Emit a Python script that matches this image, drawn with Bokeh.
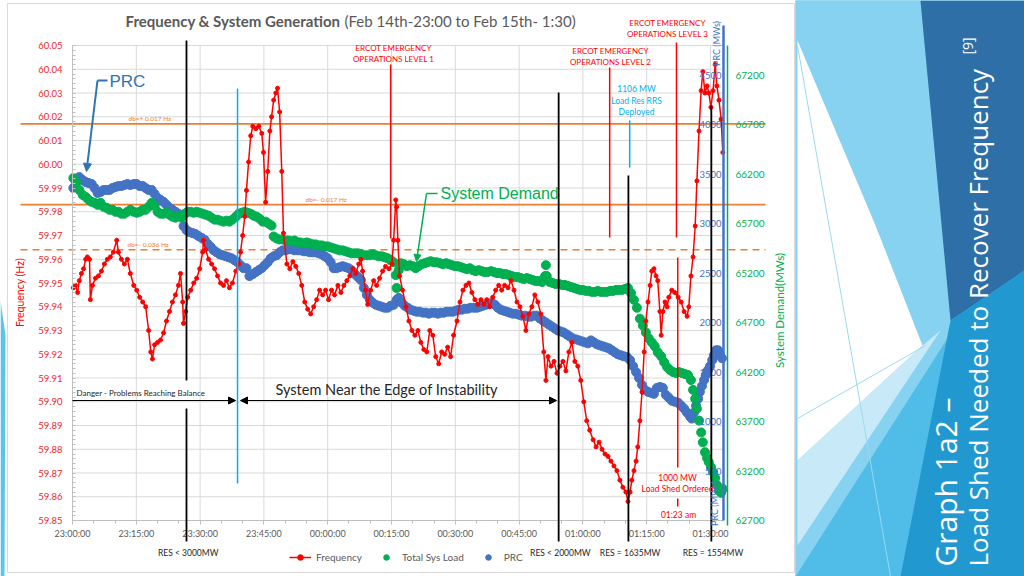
import math
from bokeh.plotting import figure
from bokeh.models import (Range1d, LinearAxis, FixedTicker, NumeralTickFormatter,
                          Label, Arrow, NormalHead, Legend, LegendItem)
from bokeh.layouts import row
from bokeh.embed import file_html
from bokeh.resources import INLINE

# ---------------- data (time = minutes after Feb 14th 23:00) ----------------
freq_t = [0.2, 0.7, 1.2, 1.6, 2.1, 2.6, 3.1, 3.5, 4.0, 4.2,
          4.7, 5.4, 6.1, 6.8, 7.5, 8.2, 8.9, 9.6, 10.4, 10.8,
          11.5, 12.2, 12.9, 13.6, 14.4, 15.1, 15.8, 16.5, 17.2, 17.9,
          18.4, 18.8, 19.3, 20.0, 20.7, 21.4, 22.1, 22.8, 23.5, 24.2,
          24.9, 25.4, 25.9, 26.1, 26.6, 27.1, 27.8, 28.5, 29.2, 29.9,
          30.6, 30.8, 31.3, 32.0, 32.7, 33.4, 34.1, 34.8, 35.5, 36.2,
          36.9, 37.6, 38.4, 39.1, 39.5, 40.0, 40.5, 40.9, 41.4, 41.9,
          42.4, 43.1, 43.8, 44.5, 44.9, 45.4, 45.9, 46.4, 46.8, 47.3,
          47.8, 48.2, 48.7, 49.2, 49.6, 50.4, 51.1, 51.8, 52.5, 53.2,
          53.9, 54.6, 55.3, 56.0, 56.7, 57.4, 58.1, 58.8, 59.5, 60.2,
          60.9, 61.6, 62.4, 63.1, 63.8, 64.5, 65.2, 65.9, 66.6, 67.3,
          67.8, 68.2, 68.9, 69.4, 70.1, 70.8, 71.5, 72.2, 72.9, 73.6,
          74.4, 75.1, 75.5, 76.0, 76.2, 76.5, 76.9, 77.6, 78.4, 79.1,
          79.8, 80.5, 81.2, 81.9, 82.6, 83.3, 84.0, 84.7, 85.4, 86.1,
          86.8, 87.5, 88.2, 88.9, 89.6, 90.4, 91.1, 91.8, 92.5, 93.2,
          93.9, 94.6, 95.3, 96.0, 96.7, 97.4, 98.1, 98.8, 99.5, 100.2,
          100.9, 101.6, 102.4, 103.1, 103.8, 104.5, 105.2, 105.9, 106.6, 107.3,
          108.0, 108.7, 109.4, 110.1, 110.8, 111.3, 111.8, 112.5, 113.2, 113.9,
          114.6, 115.3, 116.0, 116.7, 117.4, 118.1, 118.8, 119.5, 120.2, 120.9,
          121.6, 122.4, 123.1, 123.8, 124.5, 125.2, 125.9, 126.6, 127.3, 128.0,
          128.7, 129.4, 130.1, 130.6, 131.1, 131.5, 132.0, 132.5, 132.9, 133.4,
          133.9, 134.4, 134.8, 135.3, 135.8, 136.2, 136.7, 137.2, 137.6, 138.1,
          138.4, 138.8, 139.3, 139.8, 140.2, 140.9, 141.6, 142.4, 143.1, 143.8,
          144.5, 144.9, 145.4, 145.9, 146.4, 146.8, 147.3, 147.8, 148.2, 148.7,
          149.2, 149.6, 150.1, 150.6, 151.1, 151.5, 152.0, 152.5, 152.9]
freq_hz = [59.948, 59.949, 59.946, 59.951, 59.954, 59.956, 59.960, 59.961, 59.960, 59.943,
           59.949, 59.952, 59.953, 59.955, 59.958, 59.960, 59.961, 59.963, 59.968, 59.963,
           59.960, 59.958, 59.960, 59.954, 59.949, 59.947, 59.944, 59.942, 59.940, 59.930,
           59.921, 59.918, 59.924, 59.925, 59.926, 59.929, 59.934, 59.938, 59.942, 59.945,
           59.949, 59.954, 59.942, 59.933, 59.938, 59.944, 59.947, 59.950, 59.952, 59.956,
           59.963, 59.968, 59.964, 59.960, 59.958, 59.956, 59.953, 59.950, 59.949, 59.951,
           59.948, 59.950, 59.955, 59.958, 59.963, 59.970, 59.978, 59.989, 60.001, 60.012,
           60.016, 60.015, 60.016, 60.013, 60.005, 59.984, 59.997, 60.014, 60.020, 60.027,
           60.030, 60.032, 60.022, 59.997, 59.971, 59.958, 59.956, 59.959, 59.957, 59.954,
           59.949, 59.942, 59.939, 59.937, 59.940, 59.943, 59.947, 59.945, 59.947, 59.943,
           59.947, 59.945, 59.949, 59.946, 59.949, 59.951, 59.953, 59.956, 59.954, 59.958,
           59.960, 59.955, 59.947, 59.941, 59.947, 59.951, 59.949, 59.952, 59.955, 59.957,
           59.956, 59.958, 59.968, 59.985, 59.982, 59.968, 59.953, 59.947, 59.940, 59.934,
           59.930, 59.928, 59.930, 59.925, 59.922, 59.921, 59.930, 59.928, 59.919, 59.916,
           59.921, 59.920, 59.923, 59.919, 59.928, 59.934, 59.942, 59.947, 59.949, 59.950,
           59.946, 59.943, 59.941, 59.943, 59.941, 59.943, 59.940, 59.944, 59.947, 59.949,
           59.947, 59.949, 59.948, 59.951, 59.947, 59.942, 59.940, 59.936, 59.930, 59.937,
           59.940, 59.945, 59.942, 59.937, 59.921, 59.909, 59.919, 59.915, 59.917, 59.912,
           59.915, 59.917, 59.913, 59.921, 59.925, 59.917, 59.915, 59.909, 59.900, 59.892,
           59.888, 59.884, 59.881, 59.883, 59.880, 59.878, 59.877, 59.875, 59.873, 59.871,
           59.867, 59.864, 59.862, 59.858, 59.862, 59.867, 59.871, 59.875, 59.881, 59.892,
           59.904, 59.921, 59.934, 59.942, 59.949, 59.955, 59.956, 59.953, 59.951, 59.938,
           59.928, 59.938, 59.942, 59.940, 59.944, 59.947, 59.946, 59.944, 59.942, 59.938,
           59.936, 59.940, 59.953, 59.961, 59.974, 59.993, 60.014, 60.031, 60.039, 60.030,
           60.033, 60.030, 60.024, 60.031, 60.042, 60.033, 60.027, 60.019, 60.005]

load_t = [0.2, 0.9, 1.6, 2.4, 3.1, 3.8, 4.5, 5.2, 5.9, 6.6,
          7.3, 8.0, 8.7, 9.4, 10.1, 10.8, 11.5, 12.2, 12.9, 13.6,
          14.4, 15.1, 15.8, 16.5, 17.2, 17.9, 18.6, 19.3, 20.0, 20.7,
          21.4, 22.1, 22.8, 23.5, 24.2, 24.9, 25.6, 26.4, 27.1, 27.8,
          28.5, 29.2, 29.9, 30.6, 31.3, 32.0, 32.7, 33.4, 34.1, 34.8,
          35.5, 36.2, 36.9, 37.6, 38.4, 39.1, 39.8, 40.5, 41.2, 41.9,
          42.6, 43.3, 44.0, 44.7, 45.4, 46.1, 46.8, 47.3, 48.0, 48.7,
          49.4, 50.1, 50.8, 51.5, 52.2, 52.9, 53.6, 54.4, 55.1, 55.8,
          56.5, 57.2, 57.9, 58.6, 59.3, 60.0, 60.7, 61.4, 62.1, 62.8,
          63.5, 64.2, 64.9, 65.6, 66.4, 67.1, 67.8, 68.5, 69.2, 69.9,
          70.6, 71.3, 72.0, 72.7, 73.4, 74.1, 74.8, 75.5, 76.0, 76.2,
          76.7, 77.2, 77.9, 78.6, 79.3, 80.0, 80.7, 81.4, 82.1, 82.8,
          83.5, 84.2, 84.9, 85.6, 86.4, 87.1, 87.8, 88.5, 89.2, 89.9,
          90.6, 91.3, 92.0, 92.7, 93.4, 94.1, 94.8, 95.5, 96.2, 96.9,
          97.6, 98.4, 99.1, 99.8, 100.5, 101.2, 101.9, 102.6, 103.3, 104.0,
          104.7, 105.4, 106.1, 106.8, 107.5, 108.2, 108.9, 109.6, 110.4, 111.1,
          111.3, 111.5, 112.2, 112.9, 113.6, 114.4, 115.1, 115.8, 116.5, 117.2,
          117.9, 118.6, 119.3, 120.0, 120.7, 121.4, 122.1, 122.8, 123.5, 124.2,
          124.9, 125.6, 126.4, 127.1, 127.8, 128.5, 129.2, 129.9, 130.6, 131.3,
          132.0, 132.7, 133.4, 134.1, 134.8, 135.5, 136.2, 136.9, 137.6, 138.4,
          139.1, 139.8, 140.5, 141.2, 141.9, 142.6, 143.3, 144.0, 144.7, 145.4,
          145.9, 146.4, 146.8, 147.3, 147.8, 148.2, 148.7, 149.2, 149.6, 150.1,
          150.6, 151.1, 151.5, 152.0, 152.5, 152.9]
load_mw = [66160, 66120, 66040, 65990, 65970, 65940, 65920, 65910, 65890, 65910,
           65870, 65860, 65840, 65840, 65820, 65820, 65800, 65800, 65820, 65840,
           65820, 65810, 65820, 65840, 65840, 65870, 65910, 65880, 65820, 65800,
           65800, 65810, 65790, 65770, 65760, 65780, 65760, 65800, 65820, 65820,
           65810, 65820, 65810, 65800, 65790, 65780, 65760, 65740, 65740, 65730,
           65720, 65730, 65720, 65740, 65770, 65800, 65810, 65820, 65810, 65800,
           65780, 65770, 65750, 65720, 65720, 65700, 65680, 65570, 65550, 65540,
           65540, 65530, 65530, 65520, 65530, 65510, 65510, 65500, 65510, 65500,
           65490, 65490, 65480, 65480, 65470, 65470, 65460, 65450, 65440, 65430,
           65430, 65420, 65410, 65400, 65400, 65400, 65390, 65380, 65380, 65380,
           65390, 65380, 65370, 65370, 65360, 65350, 65330, 65310, 65180, 65050,
           65230, 65300, 65290, 65270, 65280, 65270, 65250, 65270, 65290, 65300,
           65310, 65320, 65310, 65310, 65300, 65290, 65300, 65290, 65280, 65270,
           65270, 65260, 65250, 65240, 65250, 65230, 65220, 65230, 65220, 65210,
           65210, 65220, 65210, 65200, 65200, 65190, 65190, 65180, 65170, 65160,
           65160, 65150, 65140, 65150, 65140, 65130, 65120, 65120, 65110, 65170,
           65280, 65170, 65110, 65100, 65090, 65090, 65080, 65080, 65070, 65060,
           65050, 65040, 65030, 65030, 65020, 65020, 65010, 65010, 65020, 65010,
           65010, 65010, 65020, 65020, 65030, 65030, 65030, 65040, 65050, 65000,
           64930, 64850, 64740, 64670, 64600, 64540, 64500, 64460, 64400, 64360,
           64300, 64250, 64220, 64200, 64190, 64200, 64190, 64180, 64170, 64120,
           64020, 63930, 63830, 63710, 63590, 63490, 63390, 63330, 63290, 63240,
           63190, 63130, 63060, 63000, 62980, 63020]

prc_t = [0.2, 0.9, 1.6, 2.4, 3.1, 3.8, 4.5, 5.2, 5.9, 6.6,
         7.3, 8.0, 8.7, 9.4, 10.1, 10.8, 11.5, 12.2, 12.9, 13.6,
         14.4, 15.1, 15.8, 16.5, 17.2, 17.9, 18.6, 19.3, 20.0, 20.7,
         21.4, 22.1, 22.8, 23.5, 24.2, 24.9, 25.6, 26.1, 26.8, 27.5,
         28.2, 28.9, 29.6, 30.4, 31.1, 31.8, 32.5, 33.2, 33.9, 34.6,
         35.3, 36.0, 36.7, 37.4, 38.1, 38.8, 39.5, 40.2, 40.9, 41.6,
         42.4, 43.1, 43.8, 44.5, 45.2, 45.9, 46.6, 47.3, 48.0, 48.7,
         49.4, 50.1, 50.8, 51.5, 52.2, 52.9, 53.6, 54.4, 55.1, 55.8,
         56.5, 57.2, 57.9, 58.6, 59.3, 60.0, 60.7, 61.4, 62.1, 62.8,
         63.5, 64.2, 64.9, 65.6, 66.4, 67.1, 67.8, 68.5, 69.2, 69.9,
         70.6, 71.3, 72.0, 72.7, 73.4, 74.1, 74.8, 75.5, 76.2, 76.7,
         77.4, 78.1, 78.8, 79.5, 80.2, 80.9, 81.6, 82.4, 83.1, 83.8,
         84.5, 85.2, 85.9, 86.6, 87.3, 88.0, 88.7, 89.4, 90.1, 90.8,
         91.5, 92.2, 92.9, 93.6, 94.4, 95.1, 95.8, 96.5, 97.2, 97.9,
         98.6, 99.3, 100.0, 100.7, 101.4, 102.1, 102.8, 103.5, 104.2, 104.9,
         105.6, 106.4, 107.1, 107.8, 108.5, 109.2, 109.9, 110.6, 111.3, 112.0,
         112.7, 113.4, 114.1, 114.8, 115.5, 116.2, 116.9, 117.6, 118.4, 119.1,
         119.8, 120.5, 121.2, 121.9, 122.6, 123.3, 124.0, 124.7, 125.4, 126.1,
         126.8, 127.5, 128.2, 128.9, 129.6, 130.4, 131.1, 131.8, 132.5, 133.2,
         133.9, 134.6, 135.3, 136.0, 136.7, 137.4, 138.1, 138.8, 139.5, 140.2,
         140.9, 141.6, 142.4, 143.1, 143.8, 144.5, 145.2, 145.6, 146.1, 146.6,
         147.1, 147.5, 148.0, 148.5, 148.9, 149.4, 149.9, 150.4, 150.8, 151.3,
         151.8, 152.2, 152.7]
prc_mw = [3360, 3420, 3470, 3440, 3420, 3410, 3400, 3360, 3310, 3320,
          3340, 3340, 3340, 3360, 3370, 3380, 3380, 3390, 3400, 3390,
          3400, 3400, 3380, 3380, 3360, 3340, 3340, 3300, 3260, 3240,
          3220, 3190, 3160, 3140, 3120, 3100, 3080, 2975, 2935, 2915,
          2905, 2895, 2875, 2855, 2835, 2795, 2765, 2730, 2710, 2690,
          2680, 2670, 2660, 2650, 2630, 2610, 2580, 2550, 2550, 2470,
          2490, 2510, 2530, 2550, 2580, 2610, 2650, 2670, 2680, 2710,
          2730, 2730, 2740, 2740, 2730, 2730, 2730, 2720, 2720, 2710,
          2710, 2710, 2700, 2690, 2670, 2650, 2610, 2550, 2550, 2560,
          2570, 2560, 2550, 2530, 2490, 2460, 2430, 2350, 2280, 2230,
          2200, 2180, 2170, 2160, 2150, 2150, 2170, 2180, 2230, 2250,
          2200, 2170, 2150, 2130, 2120, 2110, 2110, 2100, 2100, 2090,
          2100, 2100, 2090, 2100, 2100, 2110, 2110, 2110, 2120, 2130,
          2130, 2140, 2140, 2150, 2150, 2150, 2160, 2170, 2180, 2190,
          2200, 2180, 2150, 2130, 2120, 2110, 2100, 2090, 2090, 2080,
          2070, 2070, 2060, 2060, 2070, 2070, 2040, 2020, 2000, 1980,
          1960, 1940, 1920, 1910, 1900, 1880, 1860, 1840, 1830, 1820,
          1810, 1800, 1790, 1820, 1800, 1780, 1770, 1760, 1750, 1740,
          1720, 1700, 1680, 1670, 1660, 1650, 1620, 1560, 1500, 1440,
          1370, 1320, 1300, 1290, 1280, 1340, 1350, 1340, 1270, 1240,
          1210, 1200, 1190, 1160, 1130, 1090, 1050, 1030, 1090, 1160,
          1230, 1300, 1360, 1420, 1470, 1520, 1560, 1620, 1670, 1720,
          1720, 1680, 1640]

x_tick_minutes = [0, 15, 30, 45, 60, 75, 90, 105, 120, 135, 150]
x_tick_labels = ["23:00:00", "23:15:00", "23:30:00", "23:45:00", "00:00:00", "00:15:00",
                 "00:30:00", "00:45:00", "01:00:00", "01:15:00", "01:30:00"]
hz_ticks = [59.85, 59.86, 59.87, 59.88, 59.89, 59.90, 59.91, 59.92, 59.93, 59.94, 59.95,
            59.96, 59.97, 59.98, 59.99, 60.00, 60.01, 60.02, 60.03, 60.04, 60.05]
load_ticks = [62700, 63200, 63700, 64200, 64700, 65200, 65700, 66200, 66700, 67200]
prc_ticks = [500, 1000, 1500, 2000, 2500, 3000, 3500, 4000, 4500]

deadband_hz = [60.017, 59.983, 59.964]
deadband_labels = ["db=+ 0.017 Hz", "db=- 0.017 Hz", "db=- 0.036 Hz"]

res_times = [26.8, 114.3, 130.7, 150.2]
res_labels = ["RES < 3000MW", "RES < 2000MW", "RES = 1635MW", "RES = 1554MW"]
ercot_times = [74.8, 126.3, 142.0]
ercot_levels = ["OPERATIONS LEVEL 1", "OPERATIONS LEVEL 2", "OPERATIONS LEVEL 3"]
cyan_times = [38.8, 131.0]
loadshed_time = 142.3

# ---------------- layout helpers: slide pixel -> data position ----------------
PX_PER_MIN = 4.2533
T_END = 153.05                 # right edge of the plot area (01:33)
MW_PER_PX = 4800 / 475.0


def X(px):
    return (px - 72) / PX_PER_MIN


def Y(py):
    return 60.05 - (py - 45) / 2375.0


RED = "#ff0000"
GREEN = "#00b050"
BLUE = "#4472c4"
ORANGE = "#ed7d31"
CYAN = "#00b0f0"
GRAY = "#595959"
FONT = "Lato"

p = figure(width=795, height=576, output_backend="svg", toolbar_location=None,
           x_range=Range1d(X(0), X(795)), y_range=Range1d(Y(576), Y(0)),
           x_axis_location=None, y_axis_location=None,
           min_border=0, min_border_left=0, min_border_right=0,
           min_border_top=0, min_border_bottom=0)
p.extra_y_ranges = {
    "load": Range1d(62700 - 56 * MW_PER_PX, 67500 + 45 * MW_PER_PX),
    "prc": Range1d(0 - 56 * MW_PER_PX, 4800 + 45 * MW_PER_PX),
}
p.outline_line_color = None
p.background_fill_color = "white"
p.border_fill_color = "white"
p.xgrid.visible = False
p.ygrid.visible = False

# slide edge strip + chart box outline
p.patch([X(0), X(5), X(4), X(0)], [Y(300), Y(335), Y(576), Y(576)],
        color="#5bc4ea", line_color=None, level="underlay")
p.line([X(7), X(794), X(794), X(7), X(7)], [Y(3), Y(3), Y(572), Y(572), Y(3)],
       line_color="#d9d9d9", line_width=1, level="underlay")

# gridlines
p.segment(x0=x_tick_minutes, y0=[59.85] * len(x_tick_minutes),
          x1=x_tick_minutes, y1=[60.05] * len(x_tick_minutes),
          line_color="#d9d9d9", line_width=1, level="underlay")
p.segment(x0=[0] * len(hz_ticks), y0=hz_ticks, x1=[T_END] * len(hz_ticks), y1=hz_ticks,
          line_color="#d9d9d9", line_width=1, level="underlay")

# axes (fixed inside the slide canvas)
xax = LinearAxis(fixed_location=59.85, bounds=(0, T_END),
                 ticker=FixedTicker(ticks=x_tick_minutes, minor_ticks=list(range(0, 154, 5))),
                 major_label_overrides=dict(zip(x_tick_minutes, x_tick_labels)),
                 axis_line_color="#bfbfbf", major_tick_in=0, major_tick_out=4,
                 minor_tick_in=0, minor_tick_out=3,
                 major_tick_line_color="#bfbfbf", minor_tick_line_color="#bfbfbf",
                 major_label_standoff=3, major_label_text_font=FONT,
                 major_label_text_font_size="9px", major_label_text_color=GRAY)
p.add_layout(xax, "below")

yax = LinearAxis(fixed_location=0, bounds=(59.85, 60.05),
                 ticker=FixedTicker(ticks=hz_ticks,
                                    minor_ticks=[59.85 + i * 0.002 for i in range(101)]),
                 formatter=NumeralTickFormatter(format="0.00"),
                 axis_line_color="#bfbfbf", major_tick_in=0, major_tick_out=0,
                 minor_tick_in=3, minor_tick_out=0, minor_tick_line_color="#bfbfbf",
                 major_label_standoff=10, major_label_text_font=FONT,
                 major_label_text_font_size="9.5px", major_label_text_color="#f02828")
p.add_layout(yax, "left")

prc_ax = LinearAxis(y_range_name="prc", fixed_location=T_END,
                    bounds=(0, 4800 + 20 * MW_PER_PX),
                    ticker=FixedTicker(ticks=prc_ticks),
                    axis_line_color=BLUE, axis_line_width=2.5,
                    major_tick_in=0, major_tick_out=0, minor_tick_in=0, minor_tick_out=0,
                    major_label_standoff=2, major_label_text_font=FONT,
                    major_label_text_font_size="9.5px", major_label_text_color=BLUE)
p.add_layout(prc_ax, "left")

load_ax = LinearAxis(y_range_name="load", fixed_location=X(727),
                     bounds=(62700 - 5 * MW_PER_PX, 67500),
                     ticker=FixedTicker(ticks=load_ticks),
                     axis_line_color=GREEN, axis_line_width=1.5,
                     major_tick_in=0, major_tick_out=0, minor_tick_in=0, minor_tick_out=0,
                     major_label_standoff=8, major_label_text_font=FONT,
                     major_label_text_font_size="10px", major_label_text_color=GREEN)
p.add_layout(load_ax, "right")


def lab(px, py, text, size, color, align="left", bold=False, angle=0.0, font=FONT):
    p.add_layout(Label(x=X(px), y=Y(py), text=text, text_font=font,
                       text_font_size=f"{size}px", text_color=color,
                       text_align=align, text_baseline="middle",
                       text_font_style="bold" if bold else "normal", angle=angle))


def seg(x0, y0, x1, y1, color, width=1.5, dash="solid", level="annotation", start=None, end=None):
    p.add_layout(Arrow(start=start, end=end, x_start=x0, y_start=y0, x_end=x1, y_end=y1,
                       line_color=color, line_width=width, line_dash=dash, level=level))


# deadband lines
for i, hz in enumerate(deadband_hz):
    seg(X(20), hz, X(765), hz, ORANGE, 1.6, "solid" if i < 2 else "7 5", level="underlay")
lab(128, 118, deadband_labels[0], 6.5, ORANGE)
lab(305, 199, deadband_labels[1], 6.5, ORANGE)
lab(127, 244, deadband_labels[2], 6.5, ORANGE)

# series
rb = p.scatter(prc_t, prc_mw, y_range_name="prc", size=9, color=BLUE)
rg = p.scatter(load_t, load_mw, y_range_name="load", size=9, color=GREEN)
rf_line = p.line(freq_t, freq_hz, color=RED, line_width=1.5)
rf_pts = p.scatter(freq_t, freq_hz, size=4, color=RED)

# event lines
seg(res_times[0], Y(40), res_times[0], Y(380), "black", 1.8)
seg(res_times[0], Y(408), res_times[0], Y(541), "black", 1.8)
seg(res_times[1], Y(92), res_times[1], Y(541), "black", 1.8)
seg(res_times[2], Y(175), res_times[2], Y(541), "black", 1.8)
seg(res_times[3], Y(105), res_times[3], Y(541), "black", 1.8)
for t, txt in zip(res_times, res_labels):
    p.add_layout(Label(x=t + 0.4, y=Y(552), text=txt, text_font=FONT, text_font_size="8.5px",
                       text_color="#262626", text_align="center", text_baseline="middle"))

seg(ercot_times[0], Y(64), ercot_times[0], Y(238), RED, 1.5)
seg(ercot_times[1], Y(67), ercot_times[1], Y(237), RED, 1.5)
seg(ercot_times[2], Y(42), ercot_times[2], Y(237), RED, 1.5)
seg(loadshed_time, Y(257), loadshed_time, Y(467), RED, 1.5)
seg(loadshed_time, Y(498), loadshed_time, Y(506), RED, 1.5)
seg(cyan_times[0], Y(88), cyan_times[0], Y(483), CYAN, 1.5)
seg(cyan_times[1], Y(120), cyan_times[1], Y(167), CYAN, 1.5)

lab(393, 47, "ERCOT EMERGENCY", 8, RED, "center")
lab(393, 58, ercot_levels[0], 8, RED, "center")
lab(610, 50, "ERCOT EMERGENCY", 8, RED, "center")
lab(610, 61, ercot_levels[1], 8, RED, "center")
lab(667, 22, "ERCOT EMERGENCY", 8, RED, "center")
lab(667, 33, ercot_levels[2], 8, RED, "center")
lab(636, 88, "1106 MW", 8.5, CYAN, "center")
lab(636, 100, "Load Res RRS", 8.5, CYAN, "center")
lab(636, 111, "Deployed", 8.5, CYAN, "center")
lab(677, 477, "1000 MW", 8.5, RED, "center")
lab(677, 488, "Load Shed Ordered", 8.5, RED, "center")
lab(678, 514, "01:23 am", 8.5, RED, "center")

# balance / instability annotations
seg(X(72), Y(400), X(235), Y(400), "black", 1,
    end=NormalHead(size=7, fill_color="black", line_color="black"))
seg(X(240), Y(400), X(556), Y(400), "black", 1,
    start=NormalHead(size=7, fill_color="black", line_color="black"),
    end=NormalHead(size=7, fill_color="black", line_color="black"))
lab(76, 392, "Danger - Problems Reaching  Balance", 8, "#262626")
lab(275, 389, "System Near the Edge of Instability", 14.5, "#262626")

# callouts
CALL_BLUE = "#2e75b6"
seg(X(107), Y(80), X(97), Y(80), CALL_BLUE, 2)
seg(X(97), Y(80), X(86), Y(171), CALL_BLUE, 2,
    end=NormalHead(size=8, fill_color=CALL_BLUE, line_color=CALL_BLUE))
lab(109, 81, "PRC", 17, CALL_BLUE, font="Liberation Sans")
seg(X(437), Y(193), X(426), Y(193), GREEN, 1.5)
seg(X(426), Y(193), X(416), Y(261), GREEN, 1.5,
    end=NormalHead(size=7, fill_color=GREEN, line_color=GREEN))
lab(440, 193, "System Demand", 16, GREEN, font="Liberation Sans")

# title and axis titles
lab(125, 20, "Frequency & System Generation", 15, GRAY, bold=True)
lab(344, 20, "(Feb 14th-23:00 to Feb 15th- 1:30)", 15, GRAY)
lab(19, 292, "Frequency (Hz)", 10.5, RED, "center", angle=math.pi / 2)
lab(779, 310, "System Demand(MWs)", 11.5, GREEN, "center", angle=math.pi / 2)
lab(716, 43, "PRC (MWs)", 9, BLUE, "center", angle=math.pi / 2)
lab(714, 503, "PRC (MWs)", 9, BLUE, "center", angle=math.pi / 2)

legend = Legend(items=[LegendItem(label="Frequency", renderers=[rf_line, rf_pts]),
                       LegendItem(label="Total Sys Load", renderers=[rg]),
                       LegendItem(label="PRC", renderers=[rb])],
                orientation="horizontal", location=(289, 12),
                label_text_font=FONT, label_text_font_size="10px", label_text_color=GRAY,
                glyph_width=22, glyph_height=14, label_height=14, padding=2, spacing=13,
                label_standoff=5, margin=0, background_fill_alpha=0, border_line_color=None)
p.add_layout(legend)

# ---------------- slide decoration panel ----------------
deco_xs = [[795, 920, 952, 795],
           [797, 875, 922, 797],
           [797, 922, 940, 797],
           [920, 1024, 1024, 950],
           [950, 1024, 1024, 900]]
deco_ys = [[0, 0, 330, 576],
           [40, 225, 345, 460],
           [460, 345, 330, 545],
           [0, 0, 270, 320],
           [320, 270, 576, 576]]
deco_colors = ["#86d2f0", "#ffffff", "#c8eaf8", "#2d6fa6", "#2298d0"]

q = figure(width=229, height=576, output_backend="svg", toolbar_location=None,
           x_range=Range1d(795, 1024), y_range=Range1d(576, 0), min_border=0,
           x_axis_location=None, y_axis_location=None)
q.grid.visible = False
q.outline_line_color = None
q.background_fill_color = "#4fbde8"
q.border_fill_color = "#4fbde8"
q.patches(deco_xs, deco_ys, color=deco_colors, line_color=None)
q.line([797, 890], [45, 576], line_color="#9ad9f2", line_width=1)
q.line([797, 925], [418, 345], line_color="#9ad9f2", line_width=1)
q.add_layout(Label(x=945, y=566, text="Graph 1a2 –", text_font="Open Sans", text_font_size="30px",
                   text_color="white", text_align="left", text_baseline="middle", angle=math.pi / 2))
q.add_layout(Label(x=977, y=566, text="Load Shed Needed to Recover Frequency", text_font="Open Sans",
                   text_font_size="26px", text_color="white", text_align="left",
                   text_baseline="middle", angle=math.pi / 2))
q.add_layout(Label(x=967, y=54, text="[9]", text_font="Open Sans", text_font_size="14px",
                   text_color="white", text_align="left", text_baseline="middle", angle=math.pi / 2))

layout = row(p, q)
open("out.html", "w").write(file_html(layout, INLINE))
